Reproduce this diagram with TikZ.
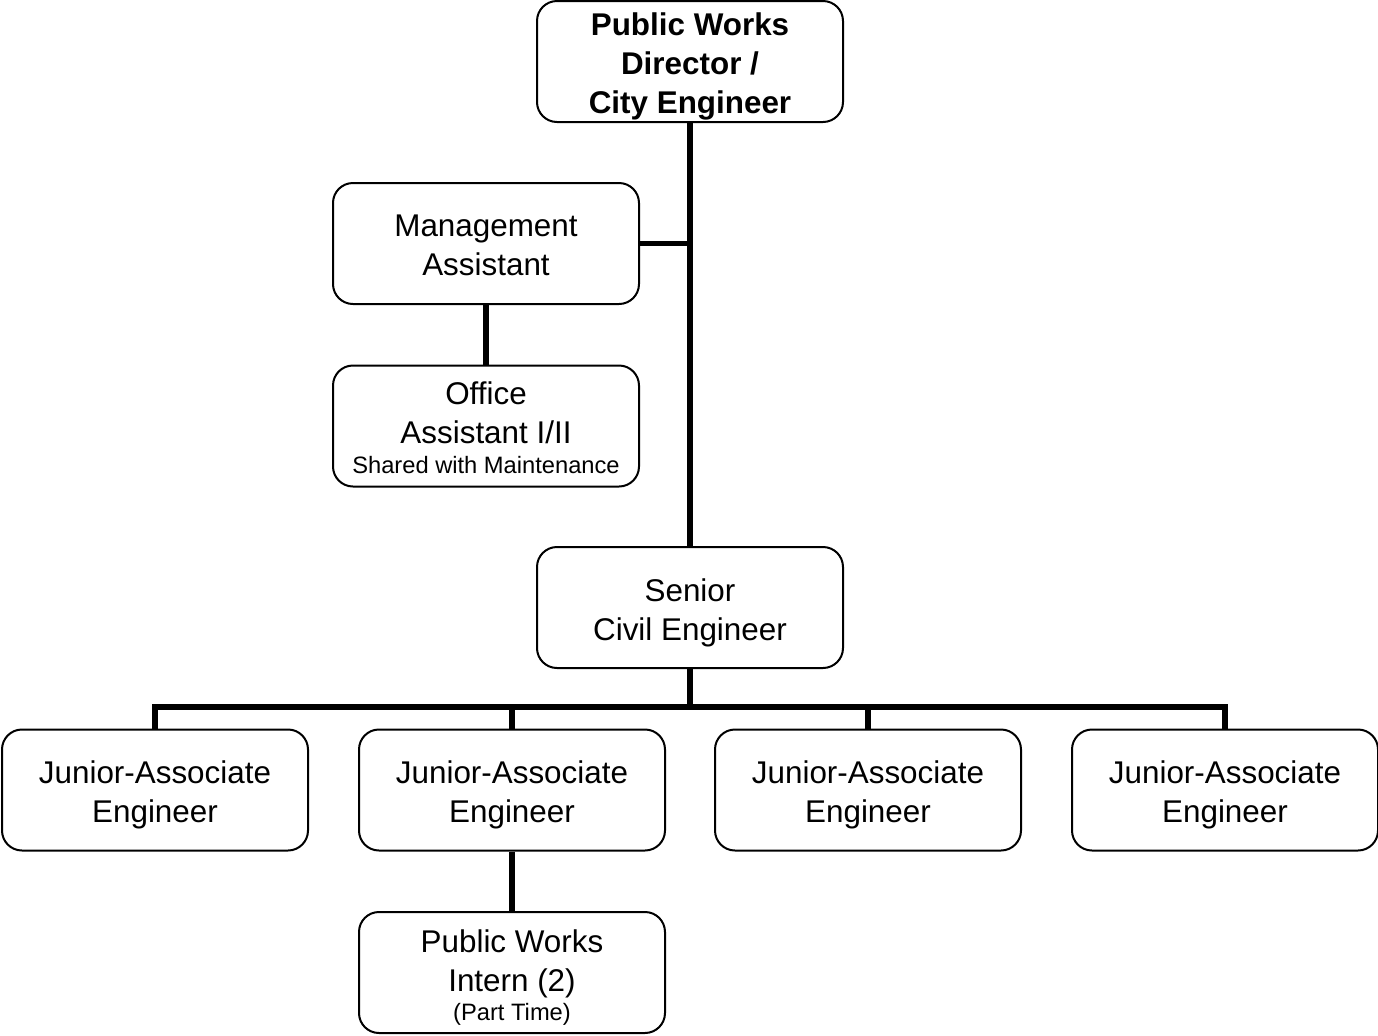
\documentclass[tikz,border=0pt]{standalone}
\usepackage{fontspec}
\setmainfont{Liberation Sans}
\newcommand{\toppad}{\rule{0pt}{16.6pt}}
\begin{document}
\begin{tikzpicture}[x=0.5pt,y=-0.5pt,
  box/.style={draw=black, line width=1pt, rounded corners=10pt, fill=white,
    minimum width=153pt, minimum height=60.5pt, inner sep=0pt, align=center,
    font=\fontsize{15.7}{19.4}\selectfont},
  conn/.style={draw=black, line width=2.6pt, line join=miter}]
\useasboundingbox (0,0) rectangle (1378,1035);
% nodes
\node[box, font=\bfseries\fontsize{15.7}{19.4}\selectfont] (dir) at (690,61.5) {\toppad Public Works\\Director /\\City Engineer};
\node[box] (ma) at (486,243.5) {\rule{0pt}{12.6pt}Management\\Assistant};
\node[box] (oa) at (486,426) {\rule{0pt}{13.3pt}Office\\Assistant I/II\\[-4.5pt]{\fontsize{11.85}{14}\selectfont Shared with Maintenance}};
\node[box] (sen) at (690,607.5) {\toppad Senior\\Civil Engineer};
\node[box] (j1) at (155,790) {\toppad Junior-Associate\\Engineer};
\node[box] (j2) at (512,790) {\toppad Junior-Associate\\Engineer};
\node[box] (j3) at (868,790) {\toppad Junior-Associate\\Engineer};
\node[box] (j4) at (1225,790) {\toppad Junior-Associate\\Engineer};
\node[box] (int) at (512,972.5) {\toppad Public Works\\Intern (2)\\[-4.5pt]{\fontsize{11.85}{14}\selectfont (Part Time)}};
\coordinate (bus) at (690,707);
% connectors
\draw[conn] (dir.south) -- (sen.north);
\draw[conn] (ma.east) -- (dir.south |- ma.east);
\draw[conn] (ma.south) -- (oa.north);
\draw[conn] (sen.south) -- (bus);
\draw[conn] (j1.north) |- (bus) -| (j4.north);
\draw[conn] (j2.north) -- (j2.north |- bus);
\draw[conn] (j3.north) -- (j3.north |- bus);
\draw[conn] (j2.south) -- (int.north);
\end{tikzpicture}
\end{document}
